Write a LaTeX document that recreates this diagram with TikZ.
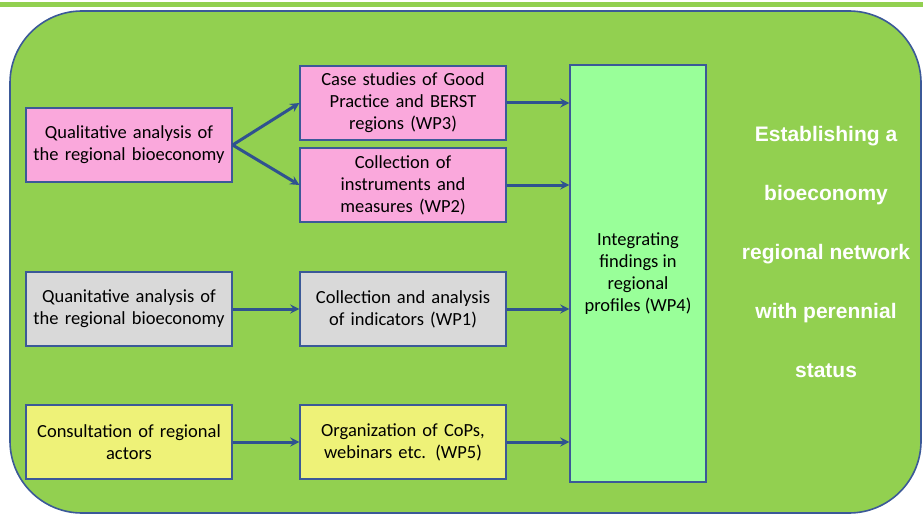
\documentclass[tikz,border=0pt]{standalone}
\usepackage{fontspec}
\setmainfont{Carlito}
\newfontfamily\headfont{Liberation Sans}
\usepackage{tikz}
\definecolor{panelgreen}{RGB}{146,208,80}
\definecolor{edgeblue}{RGB}{59,89,152}
\definecolor{arrowblue}{RGB}{47,82,143}
\definecolor{boxpink}{RGB}{250,168,220}
\definecolor{boxgray}{RGB}{217,217,217}
\definecolor{boxyellow}{RGB}{238,242,120}
\definecolor{boxlime}{RGB}{153,255,153}

\begin{document}
\begin{tikzpicture}[x=1pt,y=-1pt]
            \tikzstyle{every node}=[font=\fontsize{18.5}{22}\selectfont]
            \tikzstyle{wpbox}=[draw=edgeblue,line width=1.2pt,minimum width=206pt,minimum height=74pt,text width=200pt,align=center,inner sep=0pt]
            \tikzstyle{flow}=[draw=arrowblue,line width=3pt,-stealth]
            \useasboundingbox (0,0) rectangle (923,516);
            % background panel
            \fill[panelgreen] (0,2) rectangle (923,7);
            \draw[edgeblue,fill=panelgreen,line width=1.6pt,rounded corners=72pt] (10,11) rectangle (921,513);
            % left column
            \node[wpbox,fill=boxpink] (qual) at (129,145) {Qualitative analysis of\\the regional bioeconomy};
            \node[wpbox,fill=boxgray] (quan) at (129,309) {Quanitative analysis of\\the regional bioeconomy};
            \node[wpbox,fill=boxyellow] (cons) at (129,442) {Consultation of regional\\actors};
            % middle column
            \node[wpbox,fill=boxpink] (case) at (403,103) {Case studies of Good\\Practice and BERST\\regions (WP3)};
            \node[wpbox,fill=boxpink] (inst) at (403,185) {Collection of\\instruments and\\measures (WP2)};
            \node[wpbox,fill=boxgray] (indi) at (403,309) {Collection and analysis\\of indicators (WP1)};
            \node[wpbox,fill=boxyellow] (orga) at (403,442) {Organization of CoPs,\\webinars etc. (WP5)};
            % integration column
            \node[draw=edgeblue,line width=1.2pt,fill=boxlime,minimum width=136pt,minimum height=417pt,align=center,inner sep=0pt] (integ) at (638,273.5) {Integrating\\findings in\\regional\\profiles (WP4)};
            \coordinate (in3) at (integ.west |- case.east);
            \coordinate (in2) at (integ.west |- inst.east);
            \coordinate (in1) at (integ.west |- indi.east);
            \coordinate (in5) at (integ.west |- orga.east);
            % goal text
            \node[text=white,font=\headfont\bfseries\fontsize{21}{59}\selectfont,align=center] (goal) at (826,252) {Establishing a\\bioeconomy\\regional network\\with perennial\\status};

            \draw[flow] (qual.east) -- (case.west);
            \draw[flow] (qual.east) -- (inst.west);
            \draw[flow] (quan) -- (indi);
            \draw[flow] (cons) -- (orga);
            \draw[flow] (case.east) -- (in3);
            \draw[flow] (inst.east) -- (in2);
            \draw[flow] (indi.east) -- (in1);
            \draw[flow] (orga.east) -- (in5);
        \end{tikzpicture}
\end{document}
